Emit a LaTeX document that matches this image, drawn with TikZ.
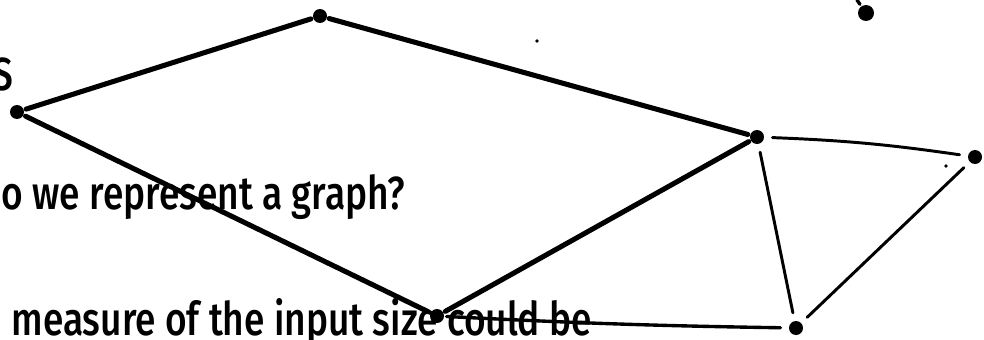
\documentclass[tikz,border=0pt]{standalone}
\usepackage{fontspec}
\newfontfamily\handfont[FakeStretch=0.8]{Fira Sans Medium}
\begin{document}
\begin{tikzpicture}[x=.25mm,y=-.25mm,line width=3.6pt,line cap=round,
  vtx/.style={circle,fill,inner sep=0pt,minimum size=3.5mm},
  speck/.style={circle,fill,inner sep=0pt,minimum size=.9mm},
  thinedge/.style={line width=2.1pt,shorten <=1.5mm,shorten >=1.5mm},
  hand/.style={anchor=base west,inner sep=0pt,font=\handfont\fontsize{33}{38}\selectfont}]
\path[use as bounding box] (0,0) rectangle (984,340);
% cut-off text on the left
\node[hand,anchor=base east] (lbls) at (16,90) {S};
\node[hand,anchor=base east] (qrep) at (408,209) {o we represent a graph?};
\node[hand] (qsize) at (9,335) {measure of the input size could be};
% vertices
\node[vtx] (s) at (17,112) {};
\node[vtx] (top) at (320,16) {};
\node[vtx] (hub) at (757,137) {};
\node[vtx] (far) at (975,157) {};
\node[vtx] (low) at (437,316) {};
\node[vtx] (lowr) at (796,328) {};
\node[vtx,minimum size=4mm] (corner) at (866,13) {};
\coordinate (cornerup) at (857,0);
\node[speck] (dotA) at (537,41) {};
\node[speck] (dotB) at (946,166) {};
% thick edges
\draw (s) -- (top) -- (hub) -- (low) -- (s);
\draw[line width=2.4pt] (corner) -- (cornerup);
% thinner edges
\draw[thinedge] (hub) to[bend left=3] (far);
\draw[thinedge] (hub) -- (lowr);
\draw[thinedge] (lowr) -- (far);
\draw[line width=2.4pt,shorten >=1.5mm] (low) to[bend right=1] (lowr);
\end{tikzpicture}
\end{document}
